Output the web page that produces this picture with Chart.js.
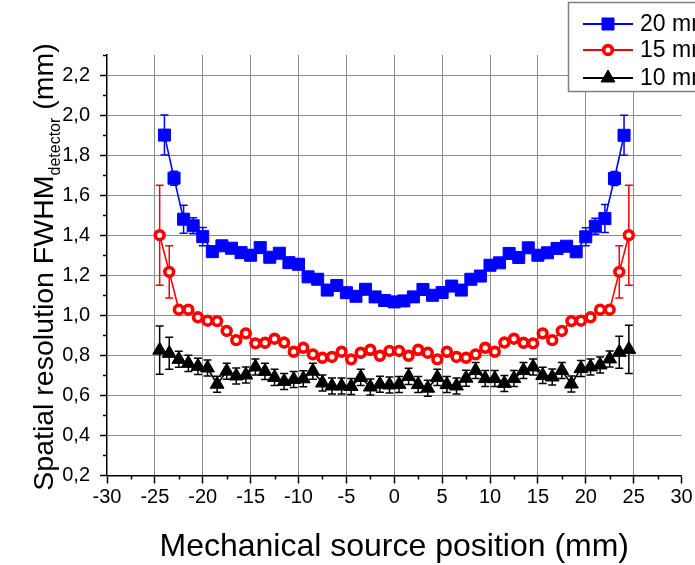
<!DOCTYPE html>
<html>
<head>
<meta charset="utf-8">
<script src="https://cdn.jsdelivr.net/npm/chart.js@4/dist/chart.umd.min.js"></script>
<style>
  html, body { margin: 0; padding: 0; background: #ffffff; }
  #wrap { width: 695px; height: 565px; }
</style>
</head>
<body>
<div id="wrap"><canvas id="c" width="695" height="565"></canvas></div>
<script>
// Source positions (mm)
const posWide = [-24, -23, -22, -21, -20, -19, -18, -17, -16, -15, -14, -13, -12, -11, -10, -9, -8, -7, -6, -5, -4, -3, -2, -1,
  0, 1, 2, 3, 4, 5, 6, 7, 8, 9, 10, 11, 12, 13, 14, 15, 16, 17, 18, 19, 20, 21, 22, 23, 24];
const posHalf = [-24.5, -23.5, -22.5, -21.5, -20.5, -19.5, -18.5, -17.5, -16.5, -15.5, -14.5, -13.5, -12.5, -11.5, -10.5,
  -9.5, -8.5, -7.5, -6.5, -5.5, -4.5, -3.5, -2.5, -1.5, -0.5,
  0.5, 1.5, 2.5, 3.5, 4.5, 5.5, 6.5, 7.5, 8.5, 9.5, 10.5, 11.5, 12.5, 13.5, 14.5,
  15.5, 16.5, 17.5, 18.5, 19.5, 20.5, 21.5, 22.5, 23.5, 24.5];

// FWHM at the detector (mm), 20 mm
const fwhm20 = [1.900, 1.685, 1.480, 1.447, 1.393, 1.318, 1.347, 1.335, 1.313, 1.300, 1.338, 1.290, 1.310, 1.263, 1.255,
  1.192, 1.180, 1.126, 1.149, 1.113, 1.095, 1.130, 1.092, 1.074,
  1.067,
  1.072, 1.092, 1.129, 1.100, 1.114, 1.146, 1.126, 1.180, 1.196, 1.250, 1.262, 1.309, 1.289, 1.337, 1.300,
  1.312, 1.334, 1.345, 1.317, 1.392, 1.445, 1.483, 1.683, 1.899];
const err20 = [0.10, 0.035, 0.07, 0.04, 0.045, 0.015, 0.015, 0.015, 0.015, 0.015, 0.015, 0.015, 0.015, 0.015, 0.015,
  0.015, 0.015, 0.015, 0.015, 0.015, 0.015, 0.015, 0.015, 0.015,
  0.015,
  0.015, 0.015, 0.015, 0.015, 0.015, 0.015, 0.015, 0.015, 0.015, 0.015, 0.015, 0.015, 0.015, 0.015, 0.015,
  0.015, 0.015, 0.015, 0.015, 0.045, 0.04, 0.07, 0.035, 0.10];

// 15 mm
const fwhm15 = [1.400, 1.217, 1.028, 1.028, 0.990, 0.973, 0.971, 0.922, 0.876, 0.910, 0.860, 0.863, 0.883, 0.864, 0.818,
  0.838, 0.805, 0.788, 0.792, 0.818, 0.780, 0.813, 0.828, 0.798, 0.822,
  0.822, 0.798, 0.828, 0.813, 0.780, 0.818, 0.792, 0.788, 0.805, 0.838, 0.818, 0.864, 0.883, 0.863, 0.860,
  0.910, 0.876, 0.922, 0.971, 0.973, 0.990, 1.028, 1.028, 1.217, 1.400];
const err15 = [0.25, 0.13, 0.012, 0.012, 0.012, 0.012, 0.012, 0.012, 0.012, 0.012, 0.012, 0.012, 0.012, 0.012, 0.012,
  0.012, 0.012, 0.012, 0.012, 0.012, 0.012, 0.012, 0.012, 0.012, 0.012,
  0.012, 0.012, 0.012, 0.012, 0.012, 0.012, 0.012, 0.012, 0.012, 0.012, 0.012, 0.012, 0.012, 0.012, 0.012,
  0.012, 0.012, 0.012, 0.012, 0.012, 0.012, 0.012, 0.012, 0.13, 0.25];

// 10 mm
const fwhm10 = [0.826, 0.810, 0.780, 0.760, 0.745, 0.737, 0.656, 0.721, 0.697, 0.702, 0.742, 0.720, 0.690, 0.670, 0.680,
  0.683, 0.721, 0.662, 0.647, 0.647, 0.645, 0.690, 0.642, 0.656, 0.652,
  0.655, 0.695, 0.654, 0.636, 0.690, 0.654, 0.647, 0.686, 0.724, 0.684, 0.684, 0.660, 0.684, 0.724, 0.742,
  0.700, 0.692, 0.724, 0.657, 0.734, 0.742, 0.752, 0.782, 0.815, 0.830];
const err10 = [0.12, 0.08, 0.04, 0.04, 0.04, 0.04, 0.04, 0.04, 0.04, 0.04, 0.04, 0.04, 0.04, 0.04, 0.04,
  0.04, 0.04, 0.04, 0.04, 0.04, 0.04, 0.04, 0.04, 0.04, 0.04,
  0.04, 0.04, 0.04, 0.04, 0.04, 0.04, 0.04, 0.04, 0.04, 0.04, 0.04, 0.04, 0.04, 0.04, 0.04,
  0.04, 0.04, 0.04, 0.04, 0.04, 0.04, 0.04, 0.04, 0.08, 0.12];

const seriesNames = ['20 mm', '15 mm', '10 mm'];
const xTicks = [-30, -25, -20, -15, -10, -5, 0, 5, 10, 15, 20, 25, 30];
const xMinorTicks = [-27.5, -22.5, -17.5, -12.5, -7.5, -2.5, 2.5, 7.5, 12.5, 17.5, 22.5, 27.5];
const yTicks = [0.2, 0.4, 0.6, 0.8, 1.0, 1.2, 1.4, 1.6, 1.8, 2.0, 2.2];
const yTickLabels = ['0,2', '0,4', '0,6', '0,8', '1,0', '1,2', '1,4', '1,6', '1,8', '2,0', '2,2'];
const yMinorTicks = [0.3, 0.5, 0.7, 0.9, 1.1, 1.3, 1.5, 1.7, 1.9, 2.1, 2.3];
const xTitle = 'Mechanical source position (mm)';
const yTitleMain = 'Spatial resolution FWHM';
const yTitleSub = 'detector';
const yTitleEnd = ' (mm)';

const FONT = "'Liberation Sans', Arial, sans-serif";

function pts(xs, ys) { return xs.map((x, i) => ({ x: x, y: ys[i] })); }

const styles = [
  { color: '#0000ff', pointStyle: 'rect', radius: 8.5, borderW: 1, fill: '#0000ff' },
  { color: '#ff0000', pointStyle: 'circle', radius: 4.4, borderW: 3.6, fill: '#ffffff' },
  { color: '#000000', pointStyle: 'triangle', radius: 8, borderW: 1, fill: '#000000' }
];

function makeSet(i, xs, ys, errs) {
  const s = styles[i];
  return {
    label: seriesNames[i],
    data: pts(xs, ys),
    errors: errs,
    borderColor: s.color,
    backgroundColor: s.fill,
    borderWidth: 1.6,
    pointStyle: s.pointStyle,
    pointRadius: s.radius,
    pointBorderWidth: s.borderW,
    pointBorderColor: s.color,
    pointBackgroundColor: s.fill,
    tension: 0,
    fill: false
  };
}

// Vertical error bars with caps, drawn under the markers
const errorBars = {
  id: 'errorBars',
  beforeDatasetsDraw(chart) {
    const { ctx } = chart;
    const xs = chart.scales.x, ys = chart.scales.y;
    chart.data.datasets.forEach((ds) => {
      ctx.save();
      ctx.strokeStyle = ds.borderColor;
      ctx.lineWidth = 1.5;
      ds.data.forEach((p, j) => {
        const e = ds.errors[j];
        const px = xs.getPixelForValue(p.x);
        const t = ys.getPixelForValue(p.y + e);
        const b = ys.getPixelForValue(p.y - e);
        ctx.beginPath();
        ctx.moveTo(px, t); ctx.lineTo(px, b);
        ctx.moveTo(px - 4, t); ctx.lineTo(px + 4, t);
        ctx.moveTo(px - 4, b); ctx.lineTo(px + 4, b);
        ctx.stroke();
      });
      ctx.restore();
    });
  }
};

// Minor ticks, axis titles and the boxed legend
const decorations = {
  id: 'decorations',
  afterDraw(chart) {
    const { ctx } = chart;
    const xs = chart.scales.x, ys = chart.scales.y;
    const area = chart.chartArea;
    ctx.save();
    ctx.strokeStyle = '#000';
    ctx.lineWidth = 1.5;
    ctx.beginPath();
    yMinorTicks.forEach(v => {
      const py = Math.round(ys.getPixelForValue(v)) + 0.5;
      ctx.moveTo(area.left, py); ctx.lineTo(area.left - 4, py);
    });
    xMinorTicks.forEach(v => {
      const px = Math.round(xs.getPixelForValue(v)) + 0.5;
      ctx.moveTo(px, area.bottom); ctx.lineTo(px, area.bottom + 4);
    });
    ctx.stroke();

    // x title
    ctx.fillStyle = '#000';
    ctx.font = '32px ' + FONT;
    ctx.textAlign = 'center';
    ctx.textBaseline = 'alphabetic';
    ctx.fillText(xTitle, (area.left + area.right) / 2, 556);

    // y title with subscript
    const mainF = '28.5px ' + FONT, subF = '16px ' + FONT;
    ctx.font = mainF;
    const w1 = ctx.measureText(yTitleMain).width;
    const w3 = ctx.measureText(yTitleEnd).width;
    ctx.font = subF;
    const w2 = ctx.measureText(yTitleSub).width;
    const total = w1 + w2 + w3;
    ctx.translate(53, 267);
    ctx.rotate(-Math.PI / 2);
    ctx.textAlign = 'left';
    let cx = -total / 2;
    ctx.font = mainF; ctx.fillText(yTitleMain, cx, 0); cx += w1;
    ctx.font = subF; ctx.fillText(yTitleSub, cx, 7); cx += w2;
    ctx.font = mainF; ctx.fillText(yTitleEnd, cx, 0);
    ctx.restore();

    // legend box
    ctx.save();
    ctx.fillStyle = '#ffffff';
    ctx.fillRect(568, 2, 140, 89);
    ctx.strokeStyle = '#808080';
    ctx.lineWidth = 1.5;
    ctx.strokeRect(568.5, 2.5, 140, 89);
    const rows = [24, 50, 78];
    chart.data.datasets.forEach((ds, i) => {
      const s = styles[i];
      const yy = rows[i];
      ctx.strokeStyle = s.color;
      ctx.lineWidth = 2;
      ctx.beginPath(); ctx.moveTo(583, yy); ctx.lineTo(633, yy); ctx.stroke();
      ctx.fillStyle = s.fill;
      ctx.strokeStyle = s.color;
      ctx.lineWidth = s.borderW;
      Chart.helpers.drawPoint(ctx, { pointStyle: s.pointStyle, radius: s.radius, rotation: 0, borderWidth: s.borderW }, 608, yy);
      ctx.fillStyle = '#000';
      ctx.font = '23px ' + FONT;
      ctx.textAlign = 'left';
      ctx.textBaseline = 'middle';
      ctx.fillText(ds.label, 640, yy + 1);
    });
    ctx.restore();
  }
};

const gridColor = (edge) => (ctx) => {
  const v = ctx.tick ? ctx.tick.value : null;
  return (v === edge[0] || v === edge[1]) ? 'rgba(0,0,0,0)' : '#8c8c8c';
};

new Chart(document.getElementById('c'), {
  type: 'line',
  data: {
    datasets: [
      makeSet(0, posWide, fwhm20, err20),
      makeSet(1, posHalf, fwhm15, err15),
      makeSet(2, posHalf, fwhm10, err10)
    ]
  },
  options: {
    responsive: false,
    animation: false,
    devicePixelRatio: 1,
    layout: { padding: { left: 0, top: 55, right: 13.5, bottom: 0 } },
    plugins: { legend: { display: false }, title: { display: false }, tooltip: { enabled: false } },
    scales: {
      x: {
        type: 'linear',
        min: -30, max: 30,
        afterFit(scale) { scale.height = 89.5; },
        afterBuildTicks(scale) { scale.ticks = xTicks.map(v => ({ value: v })); },
        border: { display: true, color: '#000', width: 1.5 },
        grid: {
          color: gridColor([-30, 30]),
          lineWidth: 1,
          borderDash: [3, 3],
          tickBorderDash: [],
          tickColor: '#000',
          tickWidth: 1.5,
          tickLength: 8,
          drawTicks: true
        },
        ticks: {
          color: '#000',
          font: { family: FONT, size: 20 },
          padding: 2,
          maxRotation: 0,
          autoSkip: false,
          callback: (v) => String(v)
        }
      },
      y: {
        type: 'linear',
        min: 0.2, max: 2.3,
        afterFit(scale) { scale.width = 107; },
        afterBuildTicks(scale) { scale.ticks = yTicks.map(v => ({ value: v })); },
        border: { display: true, color: '#000', width: 1.5 },
        grid: {
          color: gridColor([0.2, 2.3]),
          lineWidth: 1,
          borderDash: [3, 3],
          tickBorderDash: [],
          tickColor: '#000',
          tickWidth: 1.5,
          tickLength: 7,
          drawTicks: true
        },
        ticks: {
          color: '#000',
          font: { family: FONT, size: 20 },
          padding: 10,
          autoSkip: false,
          callback: (v) => {
            const k = yTicks.findIndex(t => Math.abs(t - v) < 1e-9);
            return k >= 0 ? yTickLabels[k] : '';
          }
        }
      }
    }
  },
  plugins: [errorBars, decorations]
});
</script>
</body>
</html>
